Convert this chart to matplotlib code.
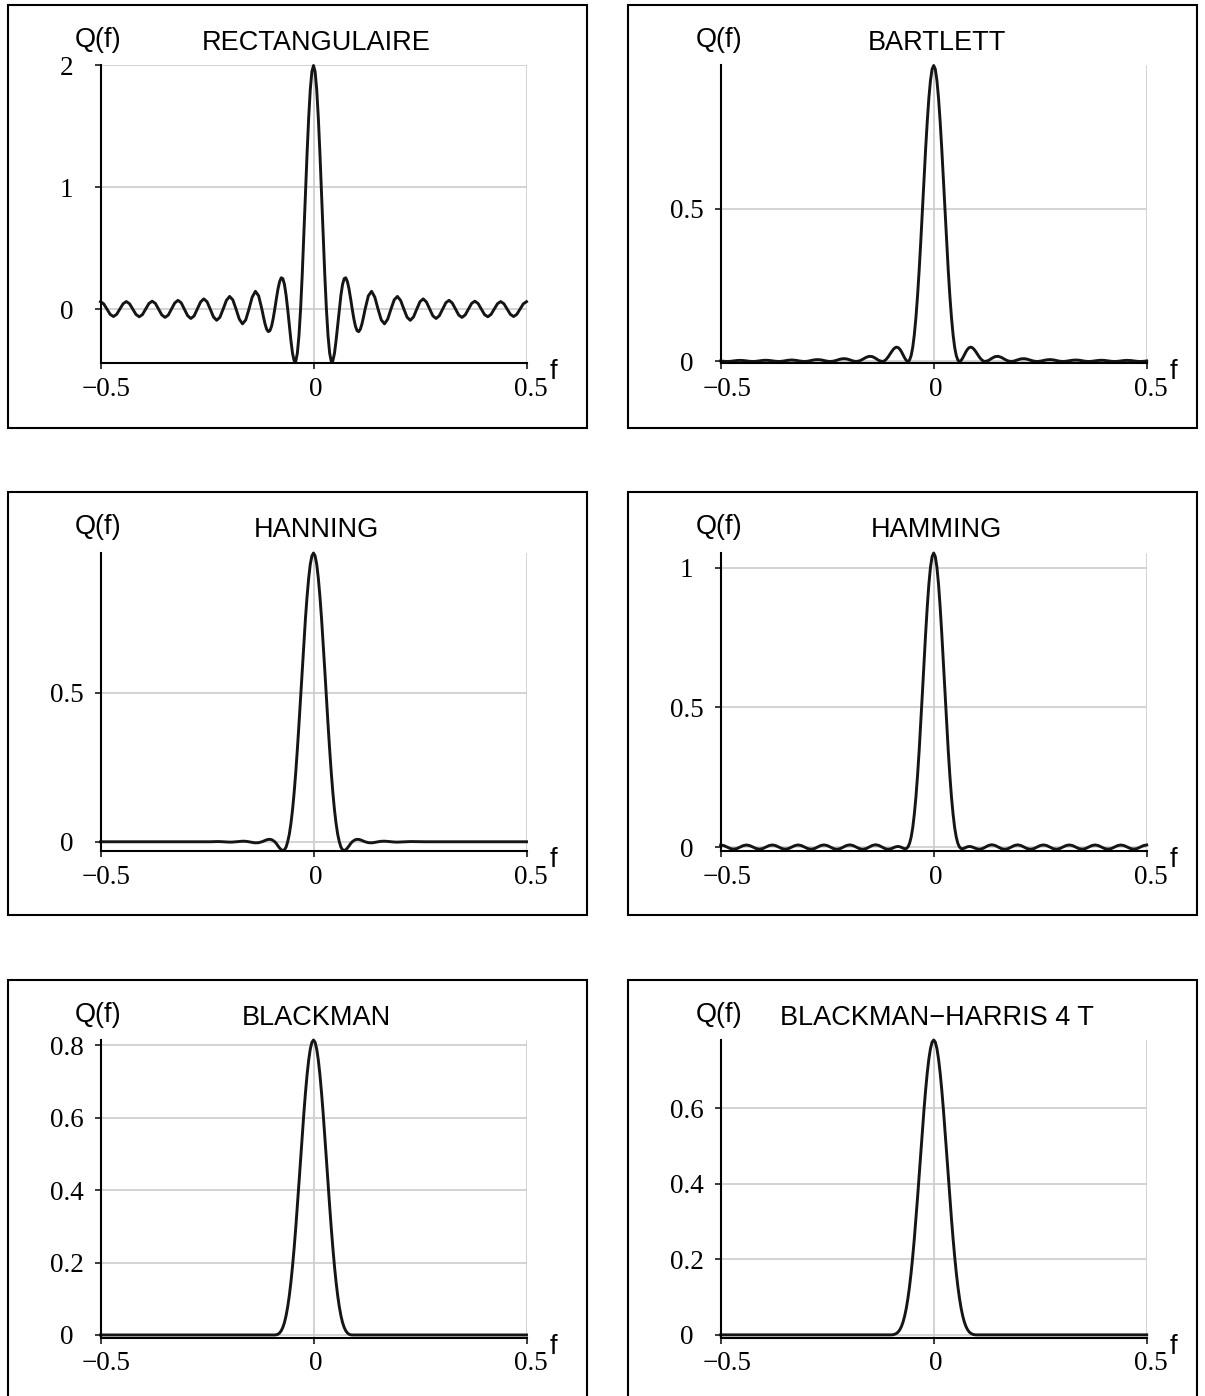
import numpy as np
import matplotlib
matplotlib.use("Agg")
import matplotlib.pyplot as plt
from matplotlib.patches import Rectangle
from matplotlib.transforms import ScaledTranslation

W, H, DPI = 1205, 1396, 100

# sampling grid (in units of 1/33 of f): eighth steps up to 4, quarter steps after
u_half = [i * 0.125 for i in range(33)] + [4.25 + i * 0.25 for i in range(50)]
f_half = np.array(u_half) / 33.0

rect_q = [2.000, 1.949, 1.801, 1.568, 1.273, 0.941, 0.600, 0.278, 0.000,
          -0.217, -0.361, -0.429, -0.424, -0.363, -0.257, -0.131, 0.000,
          0.115, 0.202, 0.250, 0.257, 0.226, 0.166, 0.086, 0.000,
          -0.079, -0.141, -0.177, -0.185, -0.166, -0.123, -0.064, 0.000,
          0.109, 0.146, 0.098, 0.0, -0.089, -0.121, -0.082, 0.0,
          0.076, 0.104, 0.071, 0.0, -0.067, -0.092, -0.064, 0.0,
          0.061, 0.084, 0.058, 0.0, -0.056, -0.077, -0.054, 0.0,
          0.052, 0.072, 0.050, 0.0, -0.049, -0.068, -0.048, 0.0,
          0.047, 0.065, 0.046, 0.0, -0.045, -0.063, -0.044, 0.0,
          0.044, 0.062, 0.044, 0.0, -0.043, -0.061, -0.043, 0.0,
          0.043, 0.061]

bartlett_q = [0.970, 0.958, 0.921, 0.863, 0.786, 0.697, 0.597, 0.495, 0.394,
              0.300, 0.216, 0.145, 0.088, 0.046, 0.019, 0.0043, 0.000,
              0.0034, 0.0116, 0.0219, 0.0321, 0.0403, 0.0454, 0.0469, 0.0449,
              0.0399, 0.0328, 0.0247, 0.0167, 0.0096, 0.0043, 0.0010, 0.000,
              0.0034, 0.0103, 0.0159, 0.0169, 0.0132, 0.0071, 0.0019, 0.0,
              0.0017, 0.0053, 0.0085, 0.0093, 0.0075, 0.0041, 0.0012, 0.0,
              0.0009, 0.0031, 0.0053, 0.0062, 0.0053, 0.0031, 0.0009, 0.0,
              0.0007, 0.0024, 0.0041, 0.0048, 0.0041, 0.0024, 0.0007, 0.0,
              0.0006, 0.0020, 0.0034, 0.0040, 0.0034, 0.0020, 0.0006, 0.0,
              0.0005, 0.0018, 0.0031, 0.0036, 0.0031, 0.0018, 0.0005, 0.0,
              0.0005, 0.0018]

hanning_q = [0.970, 0.960, 0.932, 0.885, 0.823, 0.749, 0.665, 0.576, 0.485,
             0.395, 0.311, 0.233, 0.165, 0.107, 0.061, 0.025, 0.000,
             -0.018, -0.027, -0.029, -0.027, -0.021, -0.014, -0.006, 0.000,
             0.004, 0.007, 0.008, 0.008, 0.0065, 0.0045, 0.002, 0.000,
             -0.003, -0.0036, -0.0021, 0.0, 0.0016, 0.0019, 0.0012, 0.0,
             -0.0009, -0.0012, -0.0007, 0.0, 0.0006, 0.0007, 0.0005, 0.0] + [0.0] * 34

hamming_q = [1.052, 1.039, 1.001, 0.940, 0.859, 0.764, 0.660, 0.552, 0.446,
             0.346, 0.257, 0.180, 0.118, 0.069, 0.035, 0.0126, 0.000,
             -0.0053, -0.0058, -0.0038, -0.0010, 0.0012, 0.0022, 0.0017, 0.000,
             -0.0023, -0.0049, -0.0067, -0.0076, -0.0072, -0.0057, -0.0031, 0.000,
             0.0059, 0.0084, 0.0059, 0.0, -0.0057, -0.0081, -0.0057, 0.0,
             0.0056, 0.0080, 0.0056, 0.0, -0.0056, -0.0080, -0.0056, 0.0,
             0.0055, 0.0078, 0.0055, 0.0, -0.0055, -0.0078, -0.0055, 0.0,
             0.0054, 0.0077, 0.0054, 0.0, -0.0054, -0.0077, -0.0054, 0.0,
             0.0054, 0.0076, 0.0054, 0.0, -0.0053, -0.0076, -0.0053, 0.0,
             0.0053, 0.0075, 0.0053, 0.0, -0.0053, -0.0075, -0.0053, 0.0,
             0.0053, 0.0075]

blackman_q = [0.8145, 0.8081, 0.7893, 0.7587, 0.7177, 0.6678, 0.6109, 0.5492, 0.4848,
              0.4198, 0.3562, 0.2958, 0.2399, 0.1896, 0.1456, 0.1083, 0.0776,
              0.0532, 0.0343, 0.0210, 0.0116, 0.0056, 0.0021, 0.0005, 0.0,
              0.0, 0.0, 0.0, 0.0, 0.0, 0.0, 0.0, 0.0] + [0.0] * 50

bh_q = [0.7810, 0.7753, 0.7583, 0.7309, 0.6939, 0.6489, 0.5975, 0.5414, 0.4826,
        0.4230, 0.3641, 0.3078, 0.2551, 0.2071, 0.1644, 0.1273, 0.0961,
        0.0703, 0.0498, 0.0340, 0.0221, 0.0136, 0.0078, 0.0041, 0.0018,
        0.0006, 0.0, 0.0, 0.0, 0.0, 0.0, 0.0, 0.0] + [0.0] * 50

titles = ["RECTANGULAIRE", "BARTLETT", "HANNING", "HAMMING", "BLACKMAN", "BLACKMAN\u2212HARRIS 4 T"]
series = [rect_q, bartlett_q, hanning_q, hamming_q, blackman_q, bh_q]
y_bottoms = [-0.44, -0.004, -0.031, -0.014, -0.007, -0.007]
y_ticks = [[0, 1, 2], [0, 0.5], [0, 0.5], [0, 0.5, 1],
           [0, 0.2, 0.4, 0.6, 0.8], [0, 0.2, 0.4, 0.6]]
y_ticklabels = [["0", "1", "2"], ["0", "0.5"], ["0", "0.5"], ["0", "0.5", "1"],
                ["0", "0.2", "0.4", "0.6", "0.8"], ["0", "0.2", "0.4", "0.6"]]
x_ticks = [-0.5, 0, 0.5]
x_ticklabels = ["\u22120.5", "0", "0.5"]

# layout (pixels)
col_x0 = [100.5, 720.7]
ax_w = 426
row_top = [65.5, 553.0, 1040.0]
row_bot = [362.7, 851.0, 1337.5]
frame_x = [(8, 587), (628, 1197)]
frame_top = [5, 492.3, 979.6]
frame_h = 423

SANS = "Liberation Sans"
SERIF = "Liberation Serif"

fig = plt.figure(figsize=(W / DPI, H / DPI), dpi=DPI)
fig.patch.set_facecolor("white")

px = 72.0 / DPI  # points per pixel

for i, (title, yq) in enumerate(zip(titles, series)):
    r, c = divmod(i, 2)
    x0 = col_x0[c]
    yt, yb = row_top[r], row_bot[r]
    ax = fig.add_axes([x0 / W, 1 - yb / H, ax_w / W, (yb - yt) / H])
    yq = np.array(yq)
    f_full = np.concatenate([-f_half[::-1], f_half[1:]])
    y_full = np.concatenate([yq[::-1], yq[1:]])
    ax.plot(f_full, y_full, color="#151515", lw=2.1, clip_on=False,
            solid_joinstyle="round", zorder=3)
    ax.set_xlim(-0.5, 0.5)
    ax.set_ylim(y_bottoms[i], yq[0])
    ax.set_xticks(x_ticks)
    ax.set_xticklabels(x_ticklabels, fontfamily=SERIF, fontsize=19.5)
    ax.set_yticks(y_ticks[i])
    ax.set_yticklabels(y_ticklabels[i], fontfamily=SERIF, fontsize=19.5)
    for s in ["top", "right"]:
        ax.spines[s].set_visible(False)
    for s in ["left", "bottom"]:
        ax.spines[s].set_color("black")
        ax.spines[s].set_linewidth(1.5)
        ax.spines[s].set_zorder(4)
    ax.grid(True, color="#cccccc", lw=1.2)
    ax.set_axisbelow(True)
    ax.tick_params(axis="y", direction="out", length=6 * px, width=1.5 * px,
                   pad=28 * px, colors="black")
    ax.tick_params(axis="x", direction="out", length=6 * px, width=1.5 * px,
                   pad=8 * px, colors="black")
    for lab in ax.get_yticklabels():
        lab.set_horizontalalignment("center")
    for lab, dx in zip(ax.get_xticklabels(), [6, 2, 4]):
        lab.set_transform(lab.get_transform() + ScaledTranslation(dx / DPI, 0, fig.dpi_scale_trans))
    ax.patch.set_alpha(0)

    # labels
    base = frame_top[r] - 5
    fig.text((x0 + ax_w / 2 + 3) / W, 1 - (base + 50) / H, title, ha="center",
             va="baseline", fontfamily=SANS, fontsize=19.5)
    fig.text((x0 - 2) / W, 1 - (base + 47) / H, "Q(f)", ha="center",
             va="baseline", fontfamily=SANS, fontsize=19.5)
    fig.text((x0 + ax_w + 27) / W, 1 - (yb + 9) / H, "f", ha="center",
             va="center", fontfamily=SANS, fontsize=19.5)

    # panel frame
    fx0, fx1 = frame_x[c]
    fig.add_artist(Rectangle((fx0 / W, 1 - (frame_top[r] + frame_h) / H),
                             (fx1 - fx0) / W, frame_h / H,
                             transform=fig.transFigure, fill=False,
                             ec="black", lw=1.5, zorder=0))

fig.savefig("out.png", dpi=DPI, facecolor="white")
